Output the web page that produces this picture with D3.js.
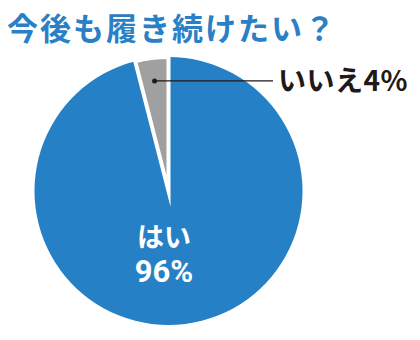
<!DOCTYPE html>
<html>
<head>
<meta charset="utf-8">
<script src="https://cdn.jsdelivr.net/npm/d3@7"></script>
<style>
  body { margin: 0; background: #fff; }
  text { font-family: "Noto Sans CJK JP", "Noto Sans", sans-serif; font-weight: 700; }
</style>
</head>
<body>
<svg id="chart"></svg>
<script>
// Chart data
const labels = ["はい", "いいえ"];
const values = [96, 4];
const colors = ["#2680c6", "#a0a0a0"];
const title = "今後も履き続けたい？";

const width = 420, height = 340;
const cx = 168.5, cy = 191, radius = 134;

const svg = d3.select("#chart")
    .attr("width", width)
    .attr("height", height);

// Title
svg.append("text")
    .attr("x", 7)
    .attr("y", 40)
    .attr("fill", "#2a80c6")
    .attr("font-size", 31)
    .attr("letter-spacing", 2)
    .text(title);

const g = svg.append("g")
    .attr("transform", `translate(${cx},${cy})`);

const pie = d3.pie().sort(null).value(d => d)(values);
const arc = d3.arc().innerRadius(0).outerRadius(radius);

// Blue slice first, gray slice on top with a white edge
g.selectAll("path")
    .data(pie)
    .enter()
    .append("path")
    .attr("d", arc)
    .attr("fill", (d, i) => colors[i])
    .attr("stroke", (d, i) => i === 1 ? "#fff" : "none")
    .attr("stroke-width", 4)
    .attr("stroke-linejoin", "miter")
    .attr("stroke-miterlimit", 12);

// Leader line for small slice
const small = pie[1];
const dot = d3.arc().innerRadius(111).outerRadius(111).centroid(small);
g.append("line")
    .attr("x1", dot[0])
    .attr("y1", dot[1])
    .attr("x2", 273 - cx)
    .attr("y2", dot[1])
    .attr("stroke", "#231815")
    .attr("stroke-width", 1.2);
g.append("circle")
    .attr("cx", dot[0])
    .attr("cy", dot[1])
    .attr("r", 2.5)
    .attr("fill", "#231815");

svg.append("text")
    .attr("x", 278)
    .attr("y", 91)
    .attr("fill", "#231815")
    .attr("font-size", 28)
    .attr("letter-spacing", 0.5)
    .text(labels[1] + values[1] + "%");

// Big slice label
const big = svg.append("text")
    .attr("fill", "#fff")
    .attr("text-anchor", "middle");
big.append("tspan")
    .attr("x", 164)
    .attr("y", 247)
    .attr("font-size", 27)
    .text(labels[0]);
big.append("tspan")
    .attr("x", 164)
    .attr("y", 282)
    .attr("font-size", 31)
    .attr("font-family", "Roboto, 'Noto Sans', sans-serif")
    .text(values[0] + "%");
</script>
</body>
</html>
